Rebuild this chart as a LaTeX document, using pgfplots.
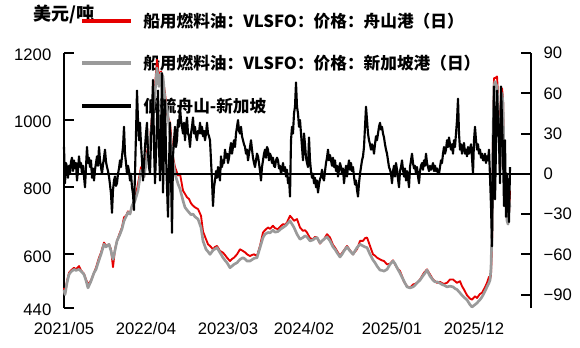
\documentclass[border=0pt]{standalone}
\usepackage{fontspec}
\setmainfont{Liberation Sans}
\newfontfamily\cjk{Noto Sans CJK SC}
\usepackage{pgfplots}
\pgfplotsset{compat=1.18}
\definecolor{zsred}{HTML}{E60000}
\definecolor{sggray}{HTML}{9A9A9A}

% x = position index along the time axis (0 = 2021/05)
\pgfplotstableread{
x zs sg
0 500 495
1 482 480
3 520 515
5 545 540
7 552 548
10 560 555
12 555 552
15 565 555
17 552 550
20 542 540
22 525 522
24 510 500
27 522 520
30 545 545
32 560 555
35 590 583
37 605 600
40 635 630
42 625 622
45 630 630
47 615 610
49 562 585
51 615 612
53 640 640
56 665 660
58 680 676
60 710 700
62 715 712
64 728 725
66 722 720
68 742 745
71 762 760
74 810 790
77 860 850
80 830 830
83 905 890
86 945 940
88 1010 990
91 1100 1080
93 1180 1155
95 1130 1100
97 1145 1140
99 1120 1130
101 1080 1060
103 1020 1035
106 990 960
109 890 880
111 860 840
114 835 810
116 840 795
119 790 760
121 780 740
123 770 732
125 765 725
127 752 718
129 745 720
131 740 712
134 735 705
137 715 680
139 668 640
142 645 615
144 630 608
146 625 600
149 615 612
151 622 616
153 625 620
156 610 605
159 605 590
161 598 582
163 590 575
166 580 560
168 586 565
170 590 570
173 600 575
176 615 585
179 610 590
181 606 586
183 600 580
186 595 580
188 598 584
190 600 588
193 595 590
196 625 620
199 665 650
201 672 660
204 680 665
206 676 664
209 685 672
211 678 666
214 675 668
217 685 676
219 690 680
221 688 684
223 695 690
226 715 700
228 708 690
230 700 680
233 705 660
236 680 645
239 670 650
241 672 655
243 665 652
246 648 640
249 645 643
251 652 648
253 650 650
256 632 634
258 640 640
260 645 645
263 660 652
266 650 640
269 628 622
271 620 615
273 610 605
276 595 592
278 604 600
280 612 610
283 625 622
286 612 610
289 600 600
291 608 610
293 615 620
296 640 630
299 640 625
301 648 622
303 650 620
306 625 600
309 600 583
311 596 575
313 590 565
316 585 553
318 582 552
320 580 550
323 570 555
326 572 570
329 582 580
331 570 572
333 560 560
336 550 544
338 535 532
340 518 520
343 505 503
346 500 500
349 510 503
351 512 508
353 515 515
356 525 523
358 535 532
360 545 540
363 555 553
366 540 535
369 525 523
371 520 518
373 515 518
376 518 514
378 514 510
380 512 508
383 515 503
386 525 505
389 525 503
391 520 498
393 515 495
396 520 485
398 505 478
400 495 472
403 478 464
406 468 450
408 465 443
411 475 450
413 470 455
416 482 465
418 485 473
421 502 490
423 515 503
425 533 515
426 525 523
427 540 560
428 630 680
429 960 950
430 1125 1100
431 1125 1115
433 1130 1100
434 1080 1050
435 1000 960
436 845 850
437 1045 980
438 1095 1080
439 1065 1050
440 860 880
441 785 760
442 790 820
443 700 700
444 740 690
445 725 760
446 790 740
}\prices

\pgfplotstableread{
x sp
0 20
1 -7
2 8
3 5
4 -3
5 6
6 0
7 9
8 12
9 2
10 10
11 4
12 8
13 -5
14 3
15 13
16 5
17 8
18 0
19 6
20 -2
21 -10
22 5
23 20
24 8
25 12
26 5
27 10
28 -3
29 4
30 -5
31 3
32 8
33 13
34 6
35 20
36 10
37 5
38 0
39 7
40 12
41 18
42 9
43 5
44 2
45 -2
46 -8
47 -15
48 -29
49 -12
50 -5
51 -2
52 -9
53 -7
54 0
55 4
56 10
57 5
58 13
59 20
60 35
61 15
62 8
63 0
64 6
65 2
66 -5
67 0
68 -10
69 -15
70 -27
71 0
72 30
73 62
74 40
75 25
76 38
77 22
78 10
79 -5
80 8
81 20
82 30
83 38
84 15
85 5
86 0
87 25
88 45
89 70
90 20
91 -7
92 15
93 40
94 62
95 20
96 -5
97 30
98 75
99 -14
100 20
101 55
102 15
103 -10
104 -32
105 5
106 38
107 0
108 -44
109 13
110 25
111 35
112 20
113 25
114 40
115 35
116 50
117 40
118 35
119 30
120 38
121 25
122 35
123 42
124 30
125 28
126 20
127 30
128 35
129 42
130 30
131 35
132 28
133 25
134 32
135 30
136 38
137 30
138 35
139 28
140 32
141 25
142 30
143 38
144 30
145 28
146 25
147 10
148 -5
149 -24
150 -10
151 -5
152 2
153 -3
154 5
155 0
156 -5
157 13
158 5
159 10
160 8
161 18
162 12
163 15
164 8
165 12
166 18
167 23
168 15
169 20
170 25
171 20
172 30
173 35
174 40
175 32
176 30
177 35
178 28
179 25
180 22
181 20
182 15
183 18
184 10
185 15
186 20
187 25
188 18
189 12
190 8
191 5
192 10
193 15
194 13
195 8
196 2
197 -5
198 5
199 10
200 15
201 18
202 12
203 20
204 18
205 10
206 15
207 13
208 8
209 12
210 6
211 5
212 10
213 12
214 10
215 4
216 6
217 0
218 3
219 8
220 2
221 5
222 -2
223 3
224 -7
225 -3
226 -17
227 25
228 35
229 30
230 45
231 50
232 68
233 50
234 45
235 35
236 40
237 30
238 20
239 10
240 30
241 22
242 12
243 8
244 5
245 27
246 10
247 2
248 -3
249 0
250 -7
251 -3
252 -10
253 -5
254 -14
255 -8
256 -4
257 -2
258 3
259 -3
260 -5
261 2
262 8
263 12
264 18
265 10
266 14
267 10
268 6
269 12
270 5
271 10
272 2
273 6
274 -2
275 3
276 8
277 5
278 0
279 4
280 -7
281 0
282 6
283 -2
284 5
285 10
286 3
287 8
288 2
289 5
290 -2
291 -8
292 -5
293 -12
294 -17
295 -7
296 0
297 5
298 10
299 13
300 20
301 35
302 50
303 40
304 30
305 25
306 22
307 18
308 22
309 20
310 15
311 22
312 28
313 25
314 30
315 35
316 38
317 33
318 35
319 30
320 27
321 22
322 18
323 15
324 10
325 5
326 3
327 0
328 -7
329 2
330 6
331 -2
332 8
333 3
334 -4
335 -10
336 2
337 5
338 10
339 3
340 -2
341 4
342 -5
343 2
344 -3
345 -10
346 5
347 10
348 15
349 8
350 4
351 6
352 0
353 5
354 -2
355 -7
356 2
357 6
358 8
359 3
360 10
361 6
362 15
363 8
364 5
365 2
366 6
367 3
368 5
369 8
370 2
371 6
372 2
373 4
374 0
375 0
376 5
377 10
378 8
379 15
380 20
381 15
382 18
383 25
384 20
385 27
386 22
387 18
388 22
389 15
390 25
391 20
392 30
393 40
394 56
395 30
396 18
397 22
398 15
399 20
400 23
401 15
402 18
403 13
404 20
405 15
406 18
407 22
408 12
409 0
410 25
411 35
412 25
413 18
414 22
415 15
416 18
417 12
418 15
419 10
420 10
421 15
422 8
423 13
424 10
425 18
426 -2
427 -24
428 -54
429 13
430 65
431 -19
432 20
433 62
434 40
435 25
436 -7
437 65
438 40
439 15
440 -24
441 25
442 -32
443 0
444 -20
445 -36
446 5
}\spread

\begin{document}
\begin{tikzpicture}[x=1pt,y=1pt]
\useasboundingbox (0,0) rectangle (435,260.25);
\tikzset{lg/.style={anchor=west, font=\cjk\bfseries\fontsize{12.5}{14}\selectfont, inner sep=0pt}}
\node[font=\cjk\bfseries\fontsize{13.5}{15}\selectfont] at (48,249.75) {美元/吨};
\draw[zsred, line width=2.5pt] (61.5,244.5) -- (98.25,244.5);
\node[lg] at (107.25,244.5) {船用燃料油：VLSFO：价格：舟山港（日）};
\draw[sggray, line width=2.5pt] (61.5,213) -- (98.25,213);
\node[lg] at (107.25,213) {船用燃料油：VLSFO：价格：新加坡港（日）};
\draw[black, line width=2.5pt] (61.5,180.75) -- (98.25,180.75);
\node[lg] at (107.25,180.75) {低硫舟山-新加坡};

\begin{axis}[
  at={(48pt,29.25pt)}, anchor=south west,
  scale only axis, width=350.25pt, height=191.25pt,
  xmin=0, xmax=467, ymin=440, ymax=1200,
  axis y line*=left, axis x line*=bottom,
  x axis line style={draw=none},
  y axis line style={line width=1.5pt},
  xtick={0,82,164,240,328,410},
  xticklabels={2021/05,2022/04,2023/03,2024/02,2025/01,2025/12},
  xtick style={draw=none},
  ytick={440,600,800,1000,1200},
  yticklabels={440,600,800,1000,1200},
  ytick align=inside, major tick length=7.5pt,
  ytick style={line width=1.5pt, black},
  ticklabel style={font=\fontsize{12.5}{14}\selectfont},
  yticklabel style={xshift=-6pt, yshift=-1.5pt},
  xticklabel style={yshift=-7.5pt},
  clip=false,
]
\addplot[zsred, line width=1.4pt, line join=round] table[x=x, y=zs] {\prices};
\addplot[sggray, line width=2pt, line join=round] table[x=x, y=sg] {\prices};
\end{axis}

\begin{axis}[
  at={(48pt,29.25pt)}, anchor=south west,
  scale only axis, width=350.25pt, height=191.25pt,
  xmin=0, xmax=467, ymin=-100, ymax=90,
  axis y line*=right, axis x line=none,
  y axis line style={line width=1.5pt},
  ytick={-90,-60,-30,0,30,60,90},
  yticklabels={−90,−60,−30,0,30,60,90},
  ytick align=inside, major tick length=7.5pt,
  ytick style={line width=1.5pt, black},
  ticklabel style={font=\fontsize{12.5}{14}\selectfont},
  yticklabel style={xshift=6pt},
  clip=false,
]
\draw[black, line width=1.1pt] (axis cs:0,0) -- (axis cs:467,0);
\addplot[black, line width=1.6pt, line join=round] table[x=x, y=sp] {\spread};
\end{axis}
\end{tikzpicture}
\end{document}
